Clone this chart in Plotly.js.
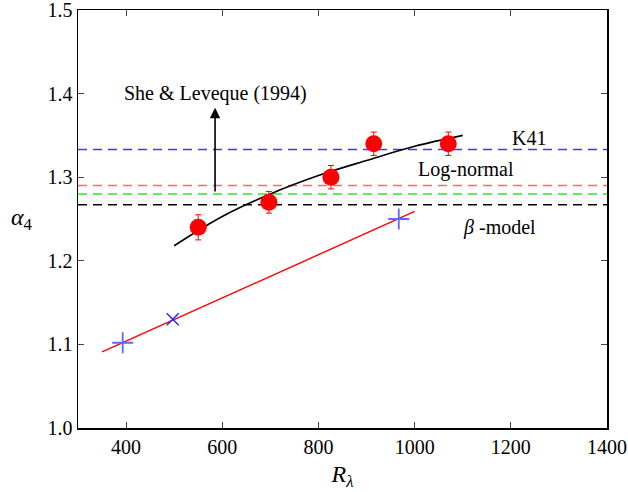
<!DOCTYPE html>
<html><head><meta charset="utf-8">
<script src="https://cdn.plot.ly/plotly-3.0.1.min.js"></script>
<style>body{margin:0;padding:0;background:#fff}#plot{width:628px;height:492px}</style>
</head><body><div id="plot"></div>
<script>
// Measured data (red circles with error bars)
const rData = [550, 697, 826, 915, 1070];
const aData = [1.240, 1.270, 1.300, 1.340, 1.340];
const aErr  = [0.015, 0.013, 0.014, 0.014, 0.014];
// Black fit curve
const rFit = [500, 600, 700, 800, 900, 1000, 1100];
const aFit = [1.218, 1.253, 1.280, 1.302, 1.320, 1.337, 1.350];
// Red line (low-Re trend)
const rLine = [350, 1000];
const aLine = [1.091, 1.259];
// Blue markers
const rPlus = [393, 967];
const aPlus = [1.102, 1.250];
const rX = [497];
const aX = [1.130];
// Model levels
const xRange = [300, 1400];
const levK41 = 1.333, levLN = 1.290, levSL = 1.280, levBeta = 1.267;
// Tick labels
const xTicks = [400, 600, 800, 1000, 1200, 1400];
const yTicks = [1.0, 1.1, 1.2, 1.3, 1.4, 1.5];
const yTickText = ['1.0', '1.1', '1.2', '1.3', '1.4', '1.5'];
// Arrow (She & Leveque)
const arrowX = 585, arrowY0 = 1.281, arrowY1 = 1.383;

const serif = "Liberation Serif, Times New Roman, serif";
function hline(y, color){
  return {x: xRange, y: [y, y], mode: 'lines', line: {color: color, width: 1.5, dash: '9px,6px'}, hoverinfo:'skip', showlegend:false};
}
const traces = [
  hline(levK41, '#3a3aff'),
  hline(levLN, '#ff6a6a'),
  hline(levSL, '#22ee22'),
  hline(levBeta, '#000000'),
  {x: rLine, y: aLine, mode: 'lines', line: {color: '#ff0000', width: 1.4}, showlegend:false},
  {x: rFit, y: aFit, mode: 'lines', line: {color: '#000000', width: 1.6, shape: 'spline'}, showlegend:false},
  {x: rData, y: aData, mode: 'markers', marker: {color: '#ff0000', size: 17, line: {width: 0}},
   error_y: {type: 'data', array: aErr, color: '#ff0000', thickness: 1, width: 3}, showlegend:false},
  {x: rPlus, y: aPlus, mode: 'markers', marker: {symbol: 'cross-thin-open', size: 15, color: '#6464ff', line: {color: '#6464ff', width: 1.8}}, showlegend:false},
  {x: rX, y: aX, mode: 'markers', marker: {symbol: 'x-thin-open', size: 12, color: '#2a2aff', line: {color: '#2a2aff', width: 1.5}}, showlegend:false}
];
const layout = {
  width: 628, height: 492,
  margin: {l: 78, r: 21, t: 10, b: 64},
  paper_bgcolor: '#fff', plot_bgcolor: '#fff',
  font: {family: serif, size: 20, color: '#000'},
  xaxis: {range: xRange, tickmode: 'array', tickvals: xTicks, ticks: 'inside', ticklen: 6, tickwidth: 1,
    showline: true, linecolor: '#000', linewidth: 1.5, mirror: 'ticks', showgrid: false, zeroline: false,
    tickfont: {color: '#000'}, ticklabeloverflow: 'allow',
    title: {text: '<i>R</i><sub><i>λ</i></sub>', font: {family: serif, size: 24}, standoff: 8}},
  yaxis: {range: [1.0, 1.5], tickmode: 'array', tickvals: yTicks, ticktext: yTickText, ticks: 'inside', ticklen: 6, tickwidth: 1,
    showline: true, linecolor: '#000', linewidth: 1.5, mirror: 'ticks', showgrid: false, zeroline: false,
    tickfont: {color: '#000'}, ticklabeloverflow: 'allow'},
  annotations: [
    {xref: 'paper', yref: 'y', x: -0.105, y: 1.25, xanchor: 'center', yanchor: 'middle', showarrow: false,
     text: '<i>α</i><sub>4</sub>', font: {family: serif, size: 24}},
    {x: 585, y: 1.40, text: 'She &amp; Leveque (1994)', showarrow: false, font: {size: 20}},
    {x: 1238, y: 1.347, text: 'K41', showarrow: false, font: {size: 20}},
    {x: 1107, y: 1.309, text: 'Log-normal', showarrow: false, font: {size: 20}},
    {x: 1177, y: 1.240, text: '<i>β</i> -model', showarrow: false, font: {size: 20}},
    {x: arrowX, y: arrowY1, ax: arrowX, ay: arrowY0, axref: 'x', ayref: 'y', xref: 'x', yref: 'y',
     text: '', showarrow: true, arrowhead: 2, arrowsize: 1.3, arrowwidth: 1.6, arrowcolor: '#000'}
  ]
};
Plotly.newPlot('plot', traces, layout, {staticPlot: true, displayModeBar: false});
</script></body></html>
